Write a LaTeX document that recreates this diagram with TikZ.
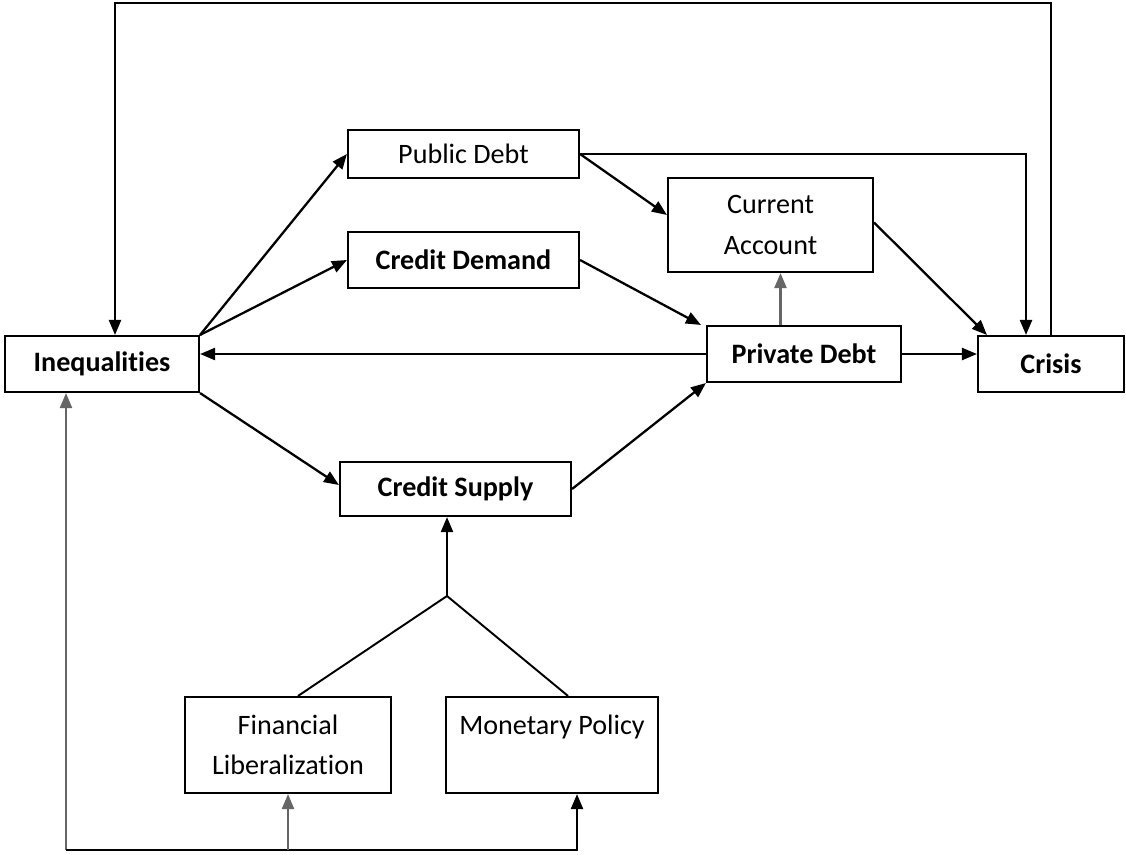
\documentclass[tikz,border=0pt]{standalone}
\usepackage{fontspec}
\setmainfont[Ligatures=NoCommon]{Carlito}
\usetikzlibrary{arrows.meta}
\tikzset{
  box/.style={draw, line width=1.2pt, inner sep=0pt, align=center, font=\fontsize{16}{23}\selectfont},
  bbox/.style={box, font=\fontsize{16}{23}\selectfont\bfseries},
  arr/.style={-{Triangle[length=0.3cm,width=0.24cm]}, line width=1.3pt},
  ln/.style={line width=1.1pt}
}
\begin{document}
\begin{tikzpicture}
   \useasboundingbox (0,0) rectangle (22.52,-17.08);
   % boxes
   \node[bbox, minimum width=3.88cm, minimum height=1.12cm] (ineq) at (2.04,-7.28) {Inequalities};
   \node[box, minimum width=4.62cm, minimum height=0.96cm] (pubdebt) at (9.27,-3.08) {Public Debt};
   \node[bbox, minimum width=4.62cm, minimum height=1.12cm] (creddem) at (9.27,-5.2) {Credit Demand};
   \node[box, minimum width=4.1cm, minimum height=1.88cm] (curacc) at (15.41,-4.5) {Current\\Account};
   \node[bbox, minimum width=3.88cm, minimum height=1.12cm] (privdebt) at (16.08,-7.08) {Private Debt};
   \node[bbox, minimum width=2.92cm, minimum height=1.12cm] (crisis) at (21.02,-7.28) {Crisis};
   \node[bbox, minimum width=4.62cm, minimum height=1.08cm] (credsup) at (9.11,-9.78) {Credit Supply};
   \node[box, minimum width=4.12cm, minimum height=1.92cm] (finlib) at (5.76,-14.9) {Financial\\Liberalization};
   \node[box, minimum width=4.24cm, minimum height=1.92cm] (monpol) at (11.04,-14.9) {Monetary Policy\\\mbox{}};
   \coordinate (top) at (2.3,-0.06);
   \coordinate (j) at (8.94,-11.92);
   \coordinate (bot) at (1.32,-17);
   % feedback loop
   \draw[arr] (crisis.north) |- (top) -- (top |- ineq.north);
   \draw[arr] (pubdebt.east) -| ([xshift=-0.5cm]crisis.north);
   \draw[arr] (pubdebt.east) -- ([yshift=0.2cm]curacc.west);
   \draw[arr] ([yshift=0.05cm]curacc.east) -- ([xshift=0.2cm]crisis.north west);
   \draw[arr] (creddem.east) -- ([xshift=-0.1cm]privdebt.north west);
   \draw[arr] (privdebt.west) -- (privdebt.west -| ineq.east);
   \draw[arr] (privdebt.east) -- (privdebt.east -| crisis.west);
   \draw[arr, gray!80!black] ([xshift=0.2cm]curacc.south |- privdebt.north) -- ([xshift=0.2cm]curacc.south);
   \draw[arr] (ineq.north east) -- (pubdebt.west);
   \draw[arr] (ineq.north east) -- (creddem.west);
   \draw[arr] (ineq.south east) -- ([yshift=0.08cm]credsup.west);
   \draw[arr] (credsup.east) -- (privdebt.south west);
   % credit supply drivers
   \draw[arr] (j) -- (j |- credsup.south);
   \draw[ln] ([xshift=0.2cm]finlib.north) -- (j) -- ([xshift=0.32cm]monpol.north);
   \draw[arr, gray!80!black] (bot) -- (bot |- ineq.south);
   \draw[arr] (bot) -| ([xshift=0.5cm]monpol.south);
   \draw[arr, gray!80!black] (bot -| finlib.south) -- (finlib.south);
\end{tikzpicture}
\end{document}
